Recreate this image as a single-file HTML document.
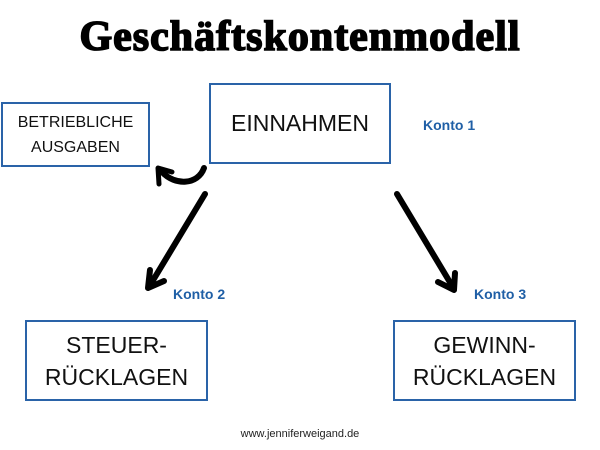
<!DOCTYPE html>
<html><head><meta charset="utf-8"><style>
body{margin:0;width:600px;height:450px;background:#fff;position:relative;overflow:hidden;font-family:"Liberation Sans",sans-serif}
.t{position:absolute;left:0;width:600px;top:13px;text-align:center;font-family:"Liberation Serif",serif;font-weight:900;font-size:42px;letter-spacing:1px;color:#000;-webkit-text-stroke:1.6px #000}
.b{position:absolute;border:2px solid #2a63a8;box-sizing:border-box;display:flex;align-items:center;justify-content:center;text-align:center;color:#111}
.k{position:absolute;color:#1f5fa6;font-weight:bold;font-size:14px}
</style></head><body>
<div class="t">Geschäftskontenmodell</div>
<div class="b" style="left:1px;top:102px;width:149px;height:65px;font-size:16px;line-height:25px">BETRIEBLICHE<br>AUSGABEN</div>
<div class="b" style="left:209px;top:83px;width:182px;height:81px;font-size:23px">EINNAHMEN</div>
<div class="b" style="left:25px;top:320px;width:183px;height:81px;font-size:23px;line-height:32px">STEUER-<br>RÜCKLAGEN</div>
<div class="b" style="left:393px;top:320px;width:183px;height:81px;font-size:23px;line-height:32px">GEWINN-<br>RÜCKLAGEN</div>
<div class="k" style="left:423px;top:117px">Konto 1</div>
<div class="k" style="left:173px;top:286px">Konto 2</div>
<div class="k" style="left:474px;top:286px">Konto 3</div>
<div style="position:absolute;left:0;width:600px;top:428px;text-align:center;font-size:11px;color:#222">www.jenniferweigand.de</div>
<svg width="600" height="450" style="position:absolute;left:0;top:0" fill="none" stroke="#000" stroke-linecap="round" stroke-linejoin="round">
<path d="M205 194 L149 287" stroke-width="6"/>
<path d="M150 270 L148 288 L164 281" stroke-width="6"/>
<path d="M397 194 L454 289" stroke-width="6"/>
<path d="M438 282 L454 290 L455 273" stroke-width="6"/>
<path d="M204 168 C198 185 175 186 162 172" stroke-width="6"/>
<path d="M159 184 L158 168 L172 172" stroke-width="5"/>
</svg>
</body></html>
